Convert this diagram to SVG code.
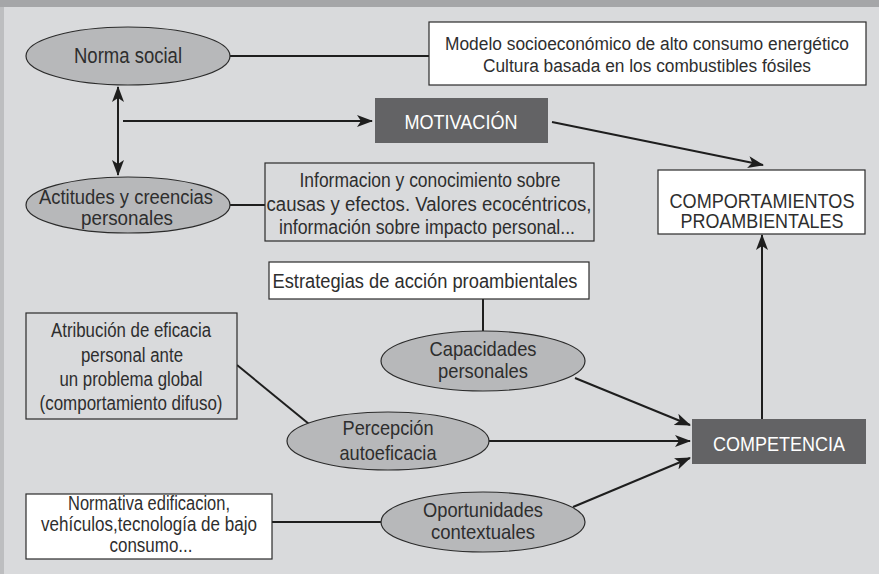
<svg xmlns="http://www.w3.org/2000/svg" width="879" height="574" viewBox="0 0 879 574">
<style>
text{font-family:"Liberation Sans",Arial,sans-serif;font-size:20px;fill:#2e2e2e;text-anchor:middle}
.e{font-size:21px}
.m{font-size:18px}
.w{fill:#ffffff}
.ell{fill:#b7b8ba;stroke:#2b2b2b;stroke-width:1.2}
.box{fill:#ffffff;stroke:#2b2b2b;stroke-width:1.2}
.gbox{fill:#d9dadc;stroke:#2b2b2b;stroke-width:1.2}
.dbox{fill:#636365}
.ln{stroke:#1e1e1e;stroke-width:2;fill:none}
</style>
<defs>
<marker id="ah" markerUnits="userSpaceOnUse" markerWidth="16" markerHeight="12" refX="15" refY="6" orient="auto">
<path d="M0,0 L16,6 L0,12 L4,6 Z" fill="#1e1e1e"/>
</marker>
</defs>
<rect x="0" y="0" width="879" height="574" fill="#d9dadc"/>
<rect x="0" y="0" width="879" height="7" fill="#a5a6a8"/>
<rect x="0" y="7" width="4" height="567" fill="#bdbec0"/>
<g id="connectors">
<line class="ln" x1="230" y1="56" x2="429" y2="56"/>
<line class="ln" x1="118" y1="140" x2="118" y2="87" marker-end="url(#ah)"/>
<line class="ln" x1="118" y1="110" x2="118" y2="175" marker-end="url(#ah)"/>
<line class="ln" x1="123" y1="121" x2="372" y2="121" marker-end="url(#ah)"/>
<line class="ln" x1="552" y1="122" x2="763" y2="165" marker-end="url(#ah)"/>
<line class="ln" x1="230" y1="205" x2="265" y2="205"/>
<line class="ln" x1="483" y1="299" x2="483" y2="331"/>
<line class="ln" x1="575" y1="378" x2="690" y2="425" marker-end="url(#ah)"/>
<line class="ln" x1="237" y1="365" x2="309" y2="424"/>
<line class="ln" x1="488" y1="441" x2="690" y2="441" marker-end="url(#ah)"/>
<line class="ln" x1="272" y1="522" x2="382" y2="522"/>
<line class="ln" x1="573" y1="507" x2="690" y2="458" marker-end="url(#ah)"/>
<line class="ln" x1="762" y1="419" x2="762" y2="235" marker-end="url(#ah)"/>
</g>
<g id="norma-social">
<ellipse class="ell" cx="128" cy="56" rx="102" ry="29"/>
<text x="128" y="63" style="font-size:22px" textLength="108" lengthAdjust="spacingAndGlyphs">Norma social</text>
</g>
<g id="modelo">
<rect class="box" x="429" y="22" width="437" height="63"/>
<text class="m" x="647" y="50" textLength="404" lengthAdjust="spacingAndGlyphs">Modelo socioeconómico de alto consumo energético</text>
<text class="m" x="647" y="72" textLength="328" lengthAdjust="spacingAndGlyphs">Cultura basada en los combustibles fósiles</text>
</g>
<g id="motivacion">
<rect class="dbox" x="375" y="98" width="173" height="45"/>
<text class="w" x="461" y="129" textLength="113" lengthAdjust="spacingAndGlyphs">MOTIVACIÓN</text>
</g>
<g id="actitudes">
<ellipse class="ell" cx="128" cy="205" rx="102" ry="28"/>
<text x="126" y="204" textLength="174" lengthAdjust="spacingAndGlyphs">Actitudes y creencias</text>
<text x="127" y="225" textLength="92" lengthAdjust="spacingAndGlyphs">personales</text>
</g>
<g id="informacion">
<rect class="gbox" x="265" y="163" width="329" height="78"/>
<text x="430" y="187" textLength="261" lengthAdjust="spacingAndGlyphs">Informacion y conocimiento sobre</text>
<text x="429" y="211" textLength="325" lengthAdjust="spacingAndGlyphs">causas y efectos. Valores ecocéntricos,</text>
<text x="427" y="234" textLength="296" lengthAdjust="spacingAndGlyphs">información sobre impacto personal...</text>
</g>
<g id="comportamientos">
<rect class="box" x="658" y="170" width="207" height="64"/>
<text x="762" y="208" textLength="185" lengthAdjust="spacingAndGlyphs">COMPORTAMIENTOS</text>
<text x="762" y="228" textLength="163" lengthAdjust="spacingAndGlyphs">PROAMBIENTALES</text>
</g>
<g id="estrategias">
<rect class="box" x="269" y="262" width="320" height="37"/>
<text x="425" y="288" textLength="305" lengthAdjust="spacingAndGlyphs">Estrategias de acción proambientales</text>
</g>
<g id="capacidades">
<ellipse class="ell" cx="483" cy="361" rx="102" ry="30"/>
<text class="e" x="483" y="356" textLength="107" lengthAdjust="spacingAndGlyphs">Capacidades</text>
<text class="e" x="483" y="378" textLength="90" lengthAdjust="spacingAndGlyphs">personales</text>
</g>
<g id="atribucion">
<rect class="gbox" x="26" y="313" width="211" height="106"/>
<text x="131" y="337" textLength="160" lengthAdjust="spacingAndGlyphs">Atribución de eficacia</text>
<text x="132" y="362" textLength="102" lengthAdjust="spacingAndGlyphs">personal ante</text>
<text x="131" y="386" textLength="143" lengthAdjust="spacingAndGlyphs">un problema global</text>
<text x="131" y="410" textLength="183" lengthAdjust="spacingAndGlyphs">(comportamiento difuso)</text>
</g>
<g id="percepcion">
<ellipse class="ell" cx="388" cy="441" rx="101" ry="29"/>
<text class="e" x="388" y="435" textLength="91" lengthAdjust="spacingAndGlyphs">Percepción</text>
<text class="e" x="388" y="460" textLength="97" lengthAdjust="spacingAndGlyphs">autoeficacia</text>
</g>
<g id="competencia">
<rect class="dbox" x="692" y="419" width="174" height="45"/>
<text class="w" x="779" y="451" textLength="132" lengthAdjust="spacingAndGlyphs">COMPETENCIA</text>
</g>
<g id="normativa">
<rect class="box" x="26" y="494" width="246" height="65"/>
<text x="149" y="510" textLength="162" lengthAdjust="spacingAndGlyphs">Normativa edificacion,</text>
<text x="149" y="531" textLength="216" lengthAdjust="spacingAndGlyphs">vehículos,tecnología de bajo</text>
<text x="151" y="552" textLength="83" lengthAdjust="spacingAndGlyphs">consumo...</text>
</g>
<g id="oportunidades">
<ellipse class="ell" cx="483" cy="522" rx="102" ry="30"/>
<text class="e" x="483" y="517" textLength="120" lengthAdjust="spacingAndGlyphs">Oportunidades</text>
<text class="e" x="483" y="539" textLength="104" lengthAdjust="spacingAndGlyphs">contextuales</text>
</g>
</svg>
